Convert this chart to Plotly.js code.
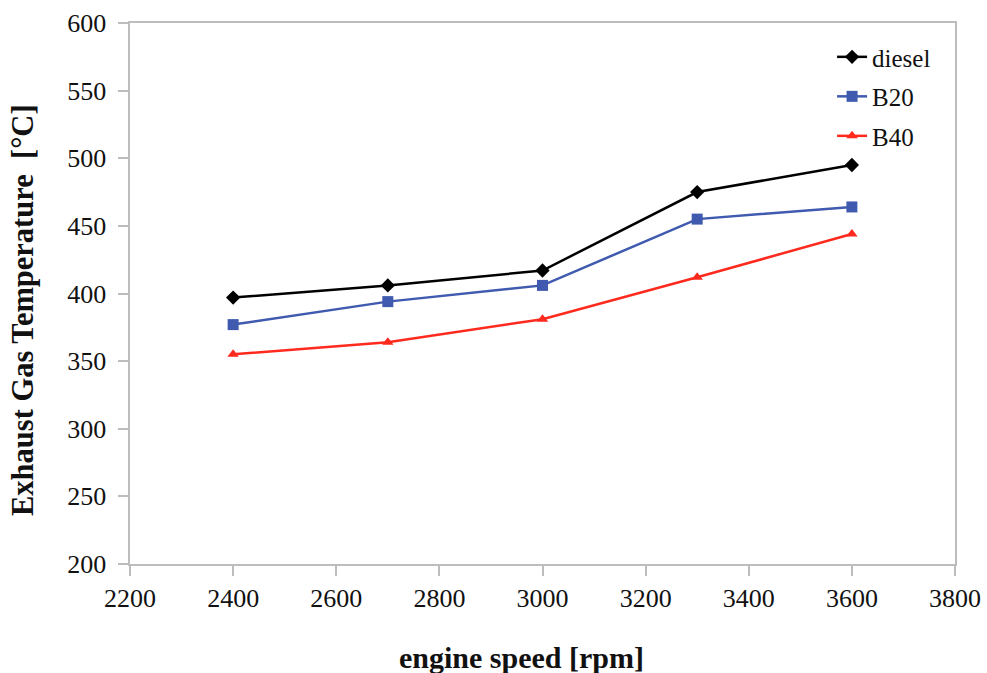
<!DOCTYPE html>
<html><head><meta charset="utf-8">
<script src="https://cdn.plot.ly/plotly-3.0.1.min.js"></script>
<style>html,body{margin:0;padding:0;background:#fff}#chart{width:987px;height:673px}</style>
</head><body><div id="chart"></div>
<script>
const engineSpeed = [2400, 2700, 3000, 3300, 3600];
const diesel = [397, 406, 417, 475, 495];
const b20 = [377, 394, 406, 455, 464];
const b40 = [355, 364, 381, 412, 444];
const seriesNames = ['diesel', 'B20', 'B40'];
const xTitle = 'engine speed [rpm]';
const yTitle = 'Exhaust Gas Temperature  [°C]';

const serif = 'Liberation Serif, DejaVu Serif, serif';
function tr(y, name, color, symbol, size, grp) {
  return {x: engineSpeed, y: y, name: name, type: 'scatter', mode: 'lines+markers',
    legendgroup: grp,
    line: {color: color, width: 2.5}, marker: {color: color, symbol: symbol, size: size}};
}
const data = [
  tr(diesel, seriesNames[0], '#000000', 'diamond', 11, 'a'),
  tr(b20, seriesNames[1], '#3F5AAE', 'square', 11, 'b'),
  tr(b40, seriesNames[2], '#FF2A1E', 'triangle-up', 10, 'c')
];
const axisCommon = {showgrid: false, zeroline: false, showline: true, linecolor: '#BDBDBD', linewidth: 2,
  mirror: true, ticks: 'outside', ticklen: 10, tickwidth: 2, tickcolor: '#BDBDBD', automargin: false,
  tickfont: {family: serif, size: 26, color: '#111'}};
const titleFont = {family: serif, size: 30, color: '#111', weight: 'bold'};
const layout = {
  width: 987, height: 673,
  margin: {l: 130, r: 32, t: 23, b: 109},
  paper_bgcolor: '#fff', plot_bgcolor: '#fff',
  showlegend: true,
  legend: {x: 0.851, y: 0.9795, xanchor: 'left', yanchor: 'top', bgcolor: 'rgba(0,0,0,0)',
    font: {family: serif, size: 25, color: '#111'}, tracegroupgap: 4, traceorder: 'grouped', itemwidth: 30},
  xaxis: Object.assign({}, axisCommon, {range: [2200, 3800], dtick: 200}),
  yaxis: Object.assign({}, axisCommon, {range: [200, 600], dtick: 50, ticksuffix: '\u00a0'}),
  annotations: [
    {text: xTitle, xref: 'paper', yref: 'paper', x: 0.475, y: -0.172, xanchor: 'center', yanchor: 'middle',
      showarrow: false, font: titleFont},
    {text: yTitle, xref: 'paper', yref: 'paper', x: -0.1297, y: 0.4695, xanchor: 'center', yanchor: 'middle',
      textangle: -90, showarrow: false, font: Object.assign({}, titleFont, {size: 30.5})}
  ]
};
Plotly.newPlot('chart', data, layout, {displayModeBar: false});
</script></body></html>
